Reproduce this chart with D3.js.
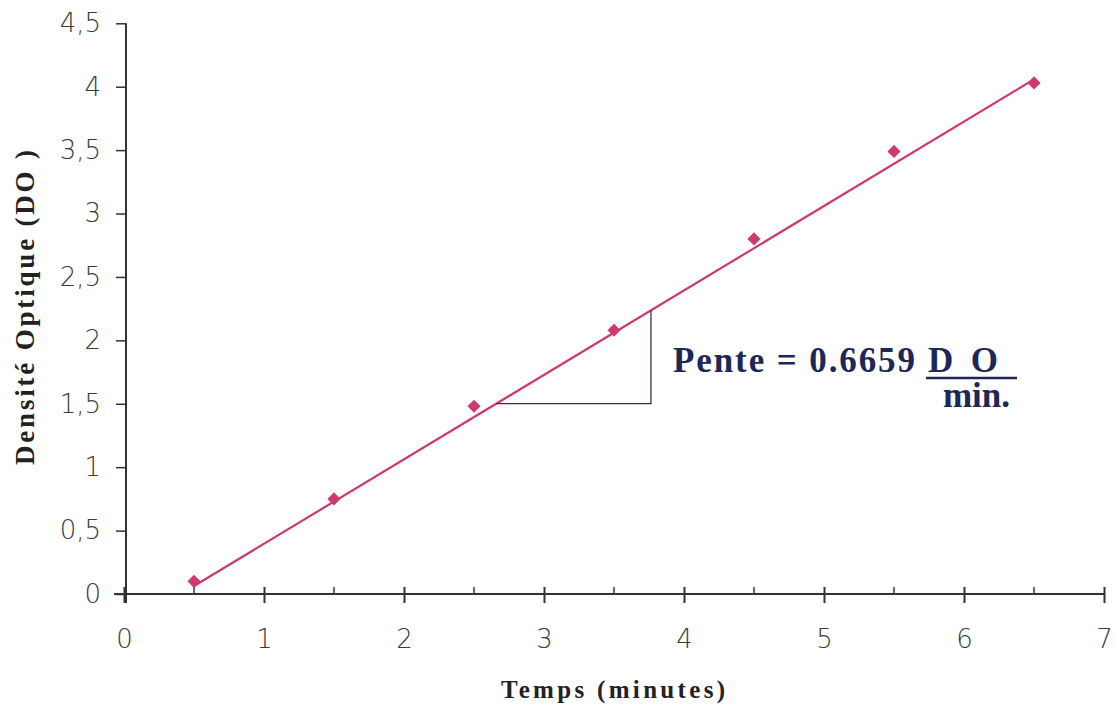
<!DOCTYPE html>
<html>
<head>
<meta charset="utf-8">
<script src="https://cdn.jsdelivr.net/npm/d3@7"></script>
<style>
  html, body { margin: 0; padding: 0; background: #fff; }
  svg { display: block; }
</style>
</head>
<body>
<svg id="chart" width="1115" height="709"></svg>
<script>
// Absorbance over time, with linear fit
const times = [0.5, 1.5, 2.5, 3.5, 4.5, 5.5, 6.5];
const densite = [0.10, 0.75, 1.48, 2.08, 2.80, 3.49, 4.03];
const slope = 0.6659;
const intercept = -0.27;
const xTicks = [0, 1, 2, 3, 4, 5, 6, 7];
const xMinorTicks = [0.5, 1.5, 2.5, 3.5, 4.5, 5.5, 6.5];
const yTicks = [0, 0.5, 1, 1.5, 2, 2.5, 3, 3.5, 4, 4.5];
const fitRange = [0.5, 6.5];
const slopeTriangle = [2.66, 3.764];

const svg = d3.select("#chart");
const axisColor = "#333";
const markColor = "#cf3a6e";
const tickFont = "DejaVu Sans";

const x = d3.scaleLinear().domain([0, 7]).range([124, 1104]);
const y = d3.scaleLinear().domain([0, 4.5]).range([594, 23.3]);
const fmt = v => String(v).replace(".", ",");

// Y axis
const yAxis = svg.append("g").attr("transform", `translate(${x(0) + 2},0)`)
  .call(d3.axisLeft(y).tickValues(yTicks).tickFormat(fmt).tickSize(10).tickSizeOuter(0).tickPadding(15));
yAxis.attr("font-size", null).attr("font-family", null);
yAxis.select(".domain").remove();
yAxis.append("line").attr("x1", 0).attr("x2", 0).attr("y1", y(4.5)).attr("y2", y(0) + 9)
  .attr("stroke", axisColor).attr("stroke-width", 2);
yAxis.selectAll(".tick line").attr("stroke", axisColor).attr("stroke-width", 1.5);
yAxis.selectAll(".tick text")
  .attr("fill", "#3a3a3a").style("font-family", tickFont).style("font-weight", 200)
  .style("font-size", "26px");

// X axis
const xAxis = svg.append("g").attr("transform", `translate(0,${y(0)})`)
  .call(d3.axisBottom(x).tickValues(xTicks).tickFormat(d => d).tickSize(9).tickSizeOuter(0).tickPadding(27));
xAxis.attr("font-size", null).attr("font-family", null);
xAxis.select(".domain").remove();
xAxis.append("line").attr("x1", x(0) - 10).attr("x2", x(7)).attr("y1", 0).attr("y2", 0)
  .attr("stroke", axisColor).attr("stroke-width", 2);
xAxis.selectAll(".tick line").attr("y1", -7).attr("y2", 9).attr("stroke", axisColor).attr("stroke-width", 2);
xAxis.selectAll(".tick text")
  .attr("fill", "#3a3a3a").style("font-family", tickFont).style("font-weight", 200)
  .style("font-size", "26px");
xAxis.selectAll(".minor").data(xMinorTicks).enter().append("line")
  .attr("x1", d => x(d)).attr("x2", d => x(d)).attr("y1", -7).attr("y2", 0)
  .attr("stroke", axisColor).attr("stroke-width", 1.5);

// Axis titles
svg.append("text").attr("x", 501).attr("y", 698)
  .attr("font-family", "Liberation Serif").attr("font-weight", "bold").attr("font-size", 25)
  .attr("fill", "#222").attr("textLength", 224).attr("lengthAdjust", "spacing")
  .text("Temps (minutes)");
svg.append("text").attr("transform", "translate(34,465) rotate(-90)")
  .attr("font-family", "Liberation Serif").attr("font-weight", "bold").attr("font-size", 27)
  .attr("fill", "#222").attr("textLength", 315).attr("lengthAdjust", "spacing")
  .text("Densité Optique (DO )");

// Fit line
const fitLine = d3.line().x(d => x(d)).y(d => y(slope * d + intercept));
svg.append("path").datum(fitRange).attr("d", fitLine)
  .attr("fill", "none").attr("stroke", markColor).attr("stroke-width", 2.2);

// Slope triangle
const [tx0, tx1] = slopeTriangle;
svg.append("path")
  .attr("d", `M${x(tx0)},${y(slope * tx0 + intercept)} L${x(tx1)},${y(slope * tx0 + intercept)} L${x(tx1)},${y(slope * tx1 + intercept)}`)
  .attr("fill", "none").attr("stroke", "#2b3550").attr("stroke-width", 1.3);

// Data points
svg.selectAll(".pt").data(times).enter().append("path")
  .attr("transform", (d, i) => `translate(${x(d)},${y(densite[i])})`)
  .attr("d", d3.symbol(d3.symbolDiamond2, 110))
  .attr("fill", markColor);

// Slope annotation
const noteColor = "#1c2857";
const noteText = (tx, ty, len, str) => svg.append("text")
  .attr("x", tx).attr("y", ty)
  .attr("font-family", "Liberation Serif").attr("font-weight", "bold").attr("font-size", 35)
  .attr("fill", noteColor).attr("textLength", len).attr("lengthAdjust", "spacing")
  .text(str);
noteText(673, 372, 242, `Pente = ${String(slope)}`);
noteText(928, 372, 70, "D O");
svg.append("line").attr("x1", 926).attr("x2", 1017).attr("y1", 378).attr("y2", 378)
  .attr("stroke", noteColor).attr("stroke-width", 2.4);
noteText(943, 407, 67, "min.");
</script>
</body>
</html>
